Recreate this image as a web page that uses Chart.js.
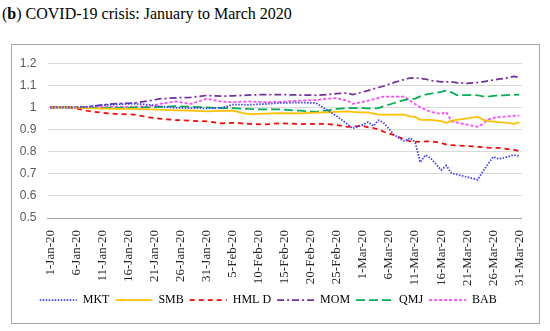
<!DOCTYPE html>
<html>
<head>
<meta charset="utf-8">
<script src="https://cdn.jsdelivr.net/npm/chart.js@4.4.0/dist/chart.umd.min.js"></script>
<style>
    body { margin: 0; background: #fff; width: 550px; height: 331px; position: relative; overflow: hidden; }
    #title { position: absolute; left: 2px; top: 5px; font-family: "Liberation Serif", serif; font-size: 16px; color: #000; white-space: nowrap; }
    #box { position: absolute; left: 11px; top: 44px; width: 527px; height: 278px; border: 1.5px solid #a6a6a6; }
    canvas { display: block; }
</style>
</head>
<body>
<div id="title">(<b>b</b>) COVID-19 crisis: January to March 2020</div>
<div id="box"><canvas id="chart" width="527" height="278"></canvas></div>
<script>
// day offsets from 1-Jan-2020
const days = [0, 4, 7, 10, 13, 16, 19, 21, 24, 27, 30, 33, 35, 38, 41, 44, 48, 51, 53, 55, 57, 58, 60, 61, 62, 63, 64, 66, 68, 69, 70, 71, 72, 73, 75, 76, 77, 78, 80, 82, 83, 84, 85, 86, 87, 89, 90];

const mkt = [1.0, 1.0, 1.002, 1.01, 1.014, 1.017, 1.012, 1.005, 0.998, 0.997, 0.996, 0.998, 1.013, 1.012, 1.015, 1.02, 1.022, 1.02, 0.99, 0.96, 0.925, 0.905, 0.922, 0.934, 0.916, 0.942, 0.93, 0.875, 0.847, 0.862, 0.844, 0.752, 0.785, 0.77, 0.717, 0.737, 0.702, 0.697, 0.685, 0.673, 0.71, 0.745, 0.777, 0.767, 0.772, 0.785, 0.78];
const smb = [1.0, 1.0, 0.997, 0.995, 0.994, 0.993, 0.991, 0.99, 0.987, 0.985, 0.982, 0.984, 0.986, 0.97, 0.972, 0.974, 0.973, 0.976, 0.978, 0.98, 0.982, 0.98, 0.978, 0.978, 0.972, 0.967, 0.967, 0.967, 0.967, 0.96, 0.957, 0.944, 0.944, 0.944, 0.938, 0.93, 0.94, 0.944, 0.95, 0.958, 0.945, 0.937, 0.937, 0.934, 0.932, 0.926, 0.932];
const hmlD = [1.0, 1.0, 0.985, 0.976, 0.97, 0.968, 0.955, 0.949, 0.943, 0.94, 0.937, 0.928, 0.93, 0.926, 0.923, 0.928, 0.925, 0.926, 0.925, 0.92, 0.912, 0.914, 0.916, 0.91, 0.907, 0.9, 0.89, 0.874, 0.855, 0.847, 0.844, 0.845, 0.846, 0.847, 0.84, 0.832, 0.829, 0.828, 0.826, 0.822, 0.82, 0.818, 0.817, 0.817, 0.814, 0.808, 0.803];
const mom = [1.0, 1.0, 1.002, 1.012, 1.017, 1.02, 1.03, 1.039, 1.043, 1.046, 1.054, 1.051, 1.052, 1.056, 1.058, 1.058, 1.056, 1.055, 1.058, 1.062, 1.065, 1.058, 1.07, 1.076, 1.084, 1.09, 1.097, 1.113, 1.127, 1.133, 1.134, 1.131, 1.128, 1.122, 1.116, 1.116, 1.116, 1.112, 1.109, 1.113, 1.116, 1.12, 1.124, 1.128, 1.13, 1.14, 1.136];
const qmj = [1.0, 1.0, 0.998, 0.997, 0.998, 1.0, 1.0, 1.002, 1.006, 1.003, 1.0, 0.997, 0.997, 0.993, 0.991, 0.991, 0.985, 0.98, 0.986, 0.993, 0.997, 0.997, 0.997, 0.996, 0.996, 0.997, 1.005, 1.02, 1.034, 1.037, 1.04, 1.05, 1.058, 1.062, 1.07, 1.076, 1.068, 1.056, 1.056, 1.055, 1.05, 1.049, 1.052, 1.054, 1.055, 1.057, 1.058];
const bab = [1.0, 1.0, 1.0, 1.001, 1.003, 1.003, 1.005, 1.016, 1.027, 1.016, 1.039, 1.026, 1.024, 1.027, 1.024, 1.025, 1.031, 1.033, 1.039, 1.042, 1.03, 1.016, 1.025, 1.031, 1.036, 1.043, 1.049, 1.049, 1.049, 1.031, 1.015, 1.0, 0.99, 0.98, 0.971, 0.979, 0.937, 0.932, 0.922, 0.912, 0.926, 0.945, 0.953, 0.956, 0.958, 0.962, 0.964];

const tickDays = [0, 5, 10, 15, 20, 25, 30, 35, 40, 45, 50, 55, 60, 65, 70, 75, 80, 85, 90];
const tickLabels = ['1-Jan-20', '6-Jan-20', '11-Jan-20', '16-Jan-20', '21-Jan-20', '26-Jan-20', '31-Jan-20',
    '5-Feb-20', '10-Feb-20', '15-Feb-20', '20-Feb-20', '25-Feb-20',
    '1-Mar-20', '6-Mar-20', '11-Mar-20', '16-Mar-20', '21-Mar-20', '26-Mar-20', '31-Mar-20'];

function series(label, values, color, dash) {
    return {
        label: label,
        data: days.map((d, i) => ({x: d, y: values[i]})),
        borderColor: color,
        backgroundColor: color,
        borderWidth: 1.75,
        borderDash: dash,
        borderCapStyle: 'butt',
        pointRadius: 0,
        tension: 0
    };
}

// default legend items take point styles, so put the dash pattern back on
function legendItems(chart) {
    const items = Chart.defaults.plugins.legend.labels.generateLabels(chart);
    return items.map(item => {
        const ds = chart.data.datasets[item.datasetIndex];
        item.lineDash = ds.borderDash;
        item.lineWidth = 1.75;
        item.strokeStyle = ds.borderColor;
        item.pointStyle = 'line';
        return item;
    });
}

const ctx = document.getElementById('chart').getContext('2d');
new Chart(ctx, {
    type: 'line',
    data: {
        datasets: [
            series('MKT', mkt, '#3c3cff', [1.5, 1.5]),
            series('SMB', smb, '#ffc000', []),
            series('HML D', hmlD, '#ff0000', [5, 4]),
            series('MOM', mom, '#7030a0', [7, 3, 2, 3]),
            series('QMJ', qmj, '#00b050', [9, 4]),
            series('BAB', bab, '#ff44ff', [3, 2])
        ]
    },
    options: {
        responsive: false,
        animation: false,
        layout: {padding: {left: 0, right: 14.5, top: 15, bottom: 7}},
        plugins: {
            tooltip: {enabled: false},
            legend: {
                position: 'bottom',
                labels: {
                    usePointStyle: true,
                    pointStyle: 'line',
                    pointStyleWidth: 37,
                    padding: 6,
                    color: '#000',
                    font: {family: 'Liberation Serif', size: 12},
                    generateLabels: legendItems
                }
            }
        },
        scales: {
            x: {
                type: 'linear',
                min: -0.5,
                max: 90.5,
                grid: {display: false},
                border: {color: '#a6a6a6', width: 1},
                afterBuildTicks: axis => { axis.ticks = tickDays.map(v => ({value: v})); },
                afterFit: axis => { axis.height = 70; },
                ticks: {
                    autoSkip: false,
                    maxRotation: 90,
                    minRotation: 90,
                    padding: 4,
                    color: '#262626',
                    font: {family: 'Liberation Serif', size: 13},
                    callback: value => tickLabels[tickDays.indexOf(value)]
                }
            },
            y: {
                min: 0.5,
                max: 1.2,
                grid: {color: '#d9d9d9', drawTicks: false},
                border: {display: false},
                afterFit: axis => { axis.width = 35.5; },
                ticks: {
                    stepSize: 0.1,
                    padding: 11,
                    color: '#595959',
                    font: {family: 'Liberation Sans', size: 12},
                    callback: value => String(Math.round(value * 10) / 10)
                }
            }
        }
    }
});
</script>
</body>
</html>
